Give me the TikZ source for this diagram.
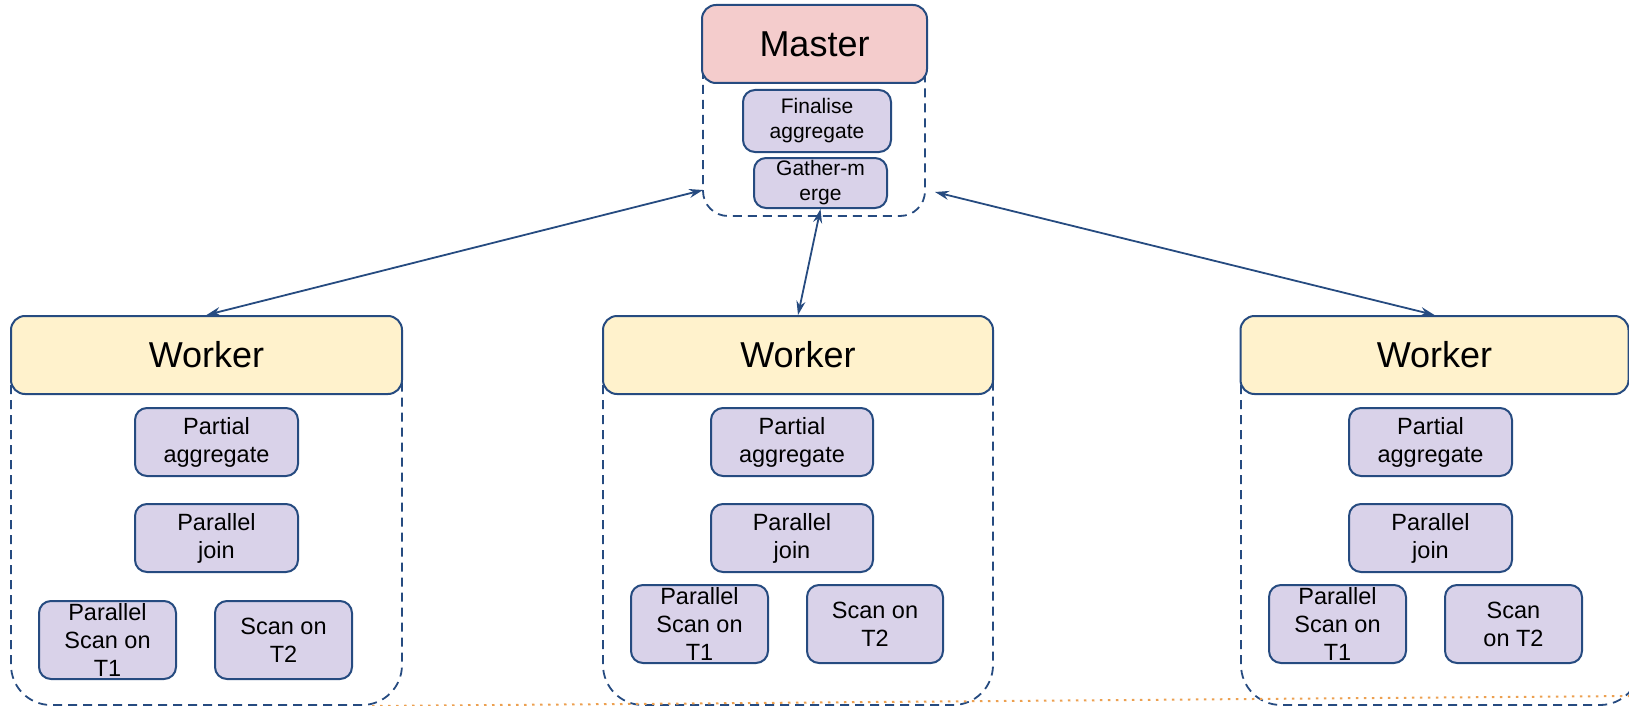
\documentclass[tikz,border=0pt]{standalone}
\usepackage{fontspec}
\setmainfont{Liberation Sans}
\usetikzlibrary{arrows.meta}

\definecolor{lineblue}{RGB}{38,75,128}
\definecolor{masterred}{RGB}{244,204,204}
\definecolor{workeryellow}{RGB}{255,242,204}
\definecolor{oplilac}{RGB}{217,210,233}
\definecolor{dotorange}{RGB}{236,160,80}

\tikzset{
  bigbox/.style={draw=lineblue, line width=2pt, rounded corners=14pt, inner sep=0pt,
    font=\fontsize{36}{40}\selectfont},
  opbox/.style={draw=lineblue, fill=oplilac, line width=2pt, rounded corners=12pt, inner sep=0pt,
    align=center, font=\fontsize{23.5}{28}\selectfont},
  smallop/.style={opbox, font=\fontsize{21}{25}\selectfont},
  container/.style={draw=lineblue, line width=1.8pt, dash pattern=on 9pt off 6pt},
  link/.style={draw=lineblue, line width=1.8pt, {Stealth[length=14pt,width=9pt]}-{Stealth[length=14pt,width=9pt]}},
}

\begin{document}
\begin{tikzpicture}[x=1pt, y=-1pt]
                \useasboundingbox (0,0) rectangle (1629,706);%

                % Drawing the dashed containers
                \draw [container, rounded corners=25pt] (703,30) rectangle (925,216);%
                \draw [container, rounded corners=40pt] (11,330) rectangle (402,705);%
                \draw [container, rounded corners=40pt] (603,330) rectangle (993,705);%
                \draw [container, rounded corners=40pt] (1241,330) rectangle (1640,705);%

                % Drawing the orange dotted line
                \draw [dotorange, line width=2pt, dash pattern=on 2.5pt off 5.5pt] (372,706) -- (1629,696);%

                % Master
                \node [bigbox, fill=masterred, minimum width=225pt, minimum height=78pt] (master) at (814.5,44) {Master};%
                \node [smallop, minimum width=148pt, minimum height=62pt] (fin) at (817,121) {Finalise\\aggregate};%
                \node [smallop, minimum width=133pt, minimum height=50pt] (gm) at (820.5,183) {Gather-m\\erge};%

                % Worker 1
                \node [bigbox, fill=workeryellow, minimum width=391pt, minimum height=78pt] (w1) at (206.5,355) {Worker};%
                \node [opbox, minimum width=163pt, minimum height=68pt] (pa1) at (216.5,442) {Partial\\aggregate};%
                \node [opbox, minimum width=163pt, minimum height=68pt] (pj1) at (216.5,538) {Parallel\\join};%
                \node [opbox, minimum width=137pt, minimum height=78pt] (ps1) at (107.5,640) {Parallel\\Scan on\\T1};%
                \node [opbox, minimum width=137pt, minimum height=78pt] (sc1) at (283.5,640) {Scan on\\T2};%

                % Worker 2
                \node [bigbox, fill=workeryellow, minimum width=390pt, minimum height=78pt] (w2) at (798,355) {Worker};%
                \node [opbox, minimum width=162pt, minimum height=68pt] (pa2) at (792,442) {Partial\\aggregate};%
                \node [opbox, minimum width=162pt, minimum height=68pt] (pj2) at (792,538) {Parallel\\join};%
                \node [opbox, minimum width=137pt, minimum height=78pt] (ps2) at (699.5,624) {Parallel\\Scan on\\T1};%
                \node [opbox, minimum width=136pt, minimum height=78pt] (sc2) at (875,624) {Scan on\\T2};%

                % Worker 3
                \node [bigbox, fill=workeryellow, minimum width=388pt, minimum height=78pt] (w3) at (1434.5,355) {Worker};%
                \node [opbox, minimum width=163pt, minimum height=68pt] (pa3) at (1430.5,442) {Partial\\aggregate};%
                \node [opbox, minimum width=163pt, minimum height=68pt] (pj3) at (1430.5,538) {Parallel\\join};%
                \node [opbox, minimum width=137pt, minimum height=78pt] (ps3) at (1337.5,624) {Parallel\\Scan on\\T1};%
                \node [opbox, minimum width=137pt, minimum height=78pt] (sc3) at (1513.5,624) {Scan\\on T2};%

                % Drawing the links
                \coordinate (mleft) at (703,190);%
                \coordinate (mright) at (935,192);%
                \draw [link] (mleft) -- (w1.north);%
                \draw [link] (gm.south) -- (w2.north);%
                \draw [link] (mright) -- (w3.north);%
\end{tikzpicture}
\end{document}
